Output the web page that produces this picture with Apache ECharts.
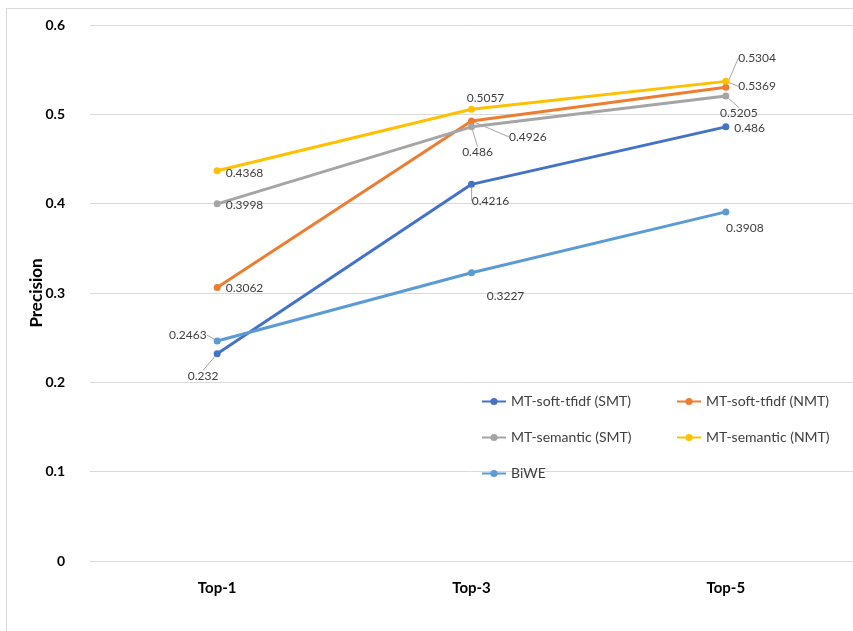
<!DOCTYPE html>
<html>
<head>
<meta charset="utf-8">
<script src="https://cdn.jsdelivr.net/npm/echarts@6/dist/echarts.min.js"></script>
<style>
  html, body { margin: 0; padding: 0; background: #fff; }
  #chart { width: 853px; height: 631px; }
</style>
</head>
<body>
<div id="chart"></div>
<script>
// Precision at Top-k for each retrieval method
const categories = ['Top-1', 'Top-3', 'Top-5'];
const softTfidfSMT = [0.232, 0.4216, 0.486];
const softTfidfNMT = [0.3062, 0.4926, 0.5304];
const semanticSMT = [0.3998, 0.486, 0.5205];
const semanticNMT = [0.4368, 0.5057, 0.5369];
const biwe = [0.2463, 0.3227, 0.3908];
const yTicks = [0, 0.1, 0.2, 0.3, 0.4, 0.5, 0.6];

const FONT = 'Lato, "Liberation Sans", sans-serif';

// label placement per point: anchor side, shift [dx, dy], leader line on/off
const labelPlacement = {
  'MT-soft-tfidf (SMT)': [['bottom', -14, 8, true], ['bottom', 19, 2, true], ['right', 0, 1, false]],
  'MT-soft-tfidf (NMT)': [['right', 0, 1, false], ['right', 29, 16, true], ['right', 4, -29, true]],
  'MT-semantic (SMT)': [['right', 0, 1, false], ['bottom', 6, 11, true], ['bottom', 13, 3, true]],
  'MT-semantic (NMT)': [['right', 0, 2, false], ['top', 14, 3, false], ['right', 4, 5, true]],
  'BiWE': [['left', -2, -6, true], ['bottom', 34, 9, false], ['bottom', 19, 2, false]]
};

const seriesDefs = [
  ['MT-soft-tfidf (SMT)', softTfidfSMT, '#4472C4'],
  ['MT-soft-tfidf (NMT)', softTfidfNMT, '#ED7D31'],
  ['MT-semantic (SMT)', semanticSMT, '#A5A5A5'],
  ['MT-semantic (NMT)', semanticNMT, '#FFC000'],
  ['BiWE', biwe, '#5B9BD5']
];

const series = seriesDefs.map(([name, values, color]) => {
  const place = labelPlacement[name];
  return {
    name: name,
    type: 'line',
    symbol: 'circle',
    symbolSize: 7,
    color: color,
    lineStyle: { width: 3, color: color },
    itemStyle: { color: color },
    z: 3,
    data: values.map((v, i) => ({
      value: v,
      label: { position: place[i][0] },
      labelLine: { show: place[i][3] }
    })),
    label: {
      show: true,
      fontFamily: FONT,
      fontSize: 12,
      color: '#404040',
      distance: 5,
      formatter: p => String(p.value)
    },
    labelLine: {
      lineStyle: { color: '#A6A6A6', width: 1 }
    },
    labelLayout: function (params) {
      const pl = place[params.dataIndex];
      return {
        x: params.labelRect.x + pl[1],
        y: params.labelRect.y + pl[2],
        align: 'left',
        verticalAlign: 'top'
      };
    }
  };
});

const legendText = { fontFamily: FONT, fontSize: 14, lineHeight: 15, color: '#404040' };

const chart = echarts.init(document.getElementById('chart'), null, { renderer: 'canvas' });
chart.setOption({
  backgroundColor: '#ffffff',
  animation: false,
  graphic: [{
    type: 'rect',
    shape: { x: 6.5, y: 8.5, width: 860, height: 640 },
    style: { fill: 'none', stroke: '#D9D9D9', lineWidth: 1 },
    silent: true,
    z: -1
  }],
  grid: { left: 90, right: -2, top: 25, bottom: 70 },
  legend: [
    {
      data: ['MT-soft-tfidf (SMT)', 'MT-semantic (SMT)', 'BiWE'],
      orient: 'vertical',
      left: 476, top: 389,
      itemWidth: 24, itemHeight: 9, itemGap: 21,
      textStyle: legendText
    },
    {
      data: ['MT-soft-tfidf (NMT)', 'MT-semantic (NMT)'],
      orient: 'vertical',
      left: 671, top: 389,
      itemWidth: 24, itemHeight: 9, itemGap: 21,
      textStyle: legendText
    }
  ],
  xAxis: {
    type: 'category',
    data: categories,
    boundaryGap: true,
    axisLine: { show: true, lineStyle: { color: '#D9D9D9', width: 1 } },
    axisTick: { show: false },
    axisLabel: {
      margin: 20,
      fontFamily: FONT,
      fontSize: 15,
      fontWeight: 'bold',
      color: '#000'
    }
  },
  yAxis: {
    type: 'value',
    min: 0,
    max: 0.6,
    interval: 0.1,
    name: 'Precision',
    nameLocation: 'middle',
    nameGap: 45,
    nameMoveOverlap: false,
    nameTextStyle: { fontFamily: FONT, fontSize: 17, fontWeight: 'bold', color: '#000' },
    axisLine: { show: false },
    axisTick: { show: false },
    splitLine: { lineStyle: { color: '#D9D9D9', width: 1 } },
    axisLabel: {
      margin: 25,
      fontFamily: FONT,
      fontSize: 14,
      fontWeight: 'bold',
      color: '#000',
      formatter: v => {
        const t = yTicks.find(k => Math.abs(k - v) < 1e-9);
        return t === undefined ? '' : String(t);
      }
    }
  },
  series: series
});
</script>
</body>
</html>
